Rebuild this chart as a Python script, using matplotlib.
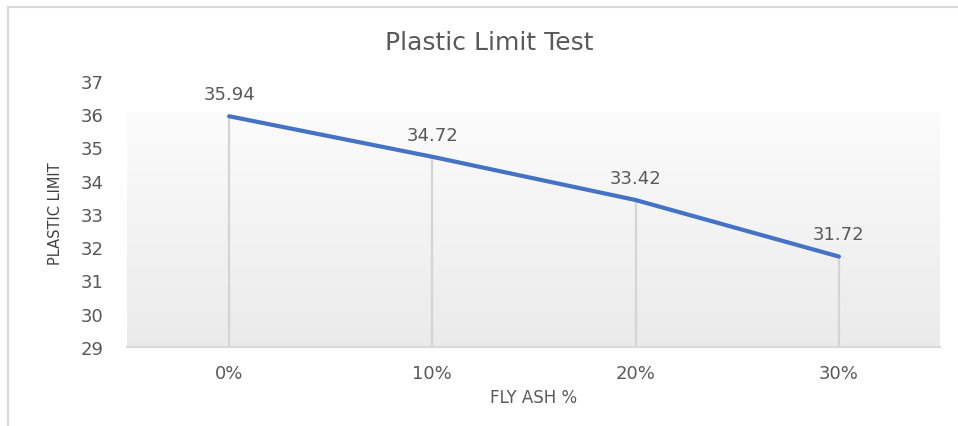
import numpy as np
import matplotlib.pyplot as plt
from matplotlib.patches import Rectangle

categories = ["0%", "10%", "20%", "30%"]
plastic_limit = [35.94, 34.72, 33.42, 31.72]
y_ticks = [29, 30, 31, 32, 33, 34, 35, 36, 37]

plt.rcParams["font.family"] = ["DejaVu Sans"]
text_gray = "#595959"

fig = plt.figure(figsize=(9.58, 4.27), dpi=100)
ax = fig.add_axes([127.5 / 958, 1 - 348 / 427, 813 / 958, 266 / 427])

# outer chart border (cropped on right and bottom)
fig.patches.append(Rectangle((8 / 958, -0.1), 1.2, 1 - 8 / 427 + 0.1,
                             transform=fig.transFigure, fill=False,
                             edgecolor="#d9d9d9", linewidth=1.5))

x = np.arange(len(categories)) + 0.5

# plot area gradient, near white on top to light gray at bottom
top = np.array([0.985, 0.985, 0.985])
bottom = np.array([0.92, 0.92, 0.92])
t = np.linspace(0, 1, 256).reshape(-1, 1, 1)
grad = top + (bottom - top) * t
ax.imshow(grad, extent=[0, 4, 29, 36.05], aspect="auto", zorder=0, origin="upper")

ax.vlines(x, 29, plastic_limit, colors="#d4d4d4", linewidth=1.6, zorder=1)
ax.plot(x, plastic_limit, color="#4472C4", linewidth=3, solid_capstyle="round", zorder=3)

for xi, v in zip(x, plastic_limit):
    ax.annotate(f"{v:.2f}", (xi, v), xytext=(0, 16), textcoords="offset points",
                ha="center", va="center", fontsize=13, color=text_gray)

ax.set_xlim(0, 4)
ax.set_ylim(29, 37)
ax.set_xticks(x)
ax.set_xticklabels(categories)
ax.set_yticks(y_ticks)
ax.tick_params(length=0, labelsize=13, colors=text_gray)
ax.tick_params(axis="x", pad=12)
ax.tick_params(axis="y", pad=17.5)
for side in ["top", "right", "left"]:
    ax.spines[side].set_visible(False)
ax.spines["bottom"].set_color("#d9d9d9")
ax.spines["bottom"].set_linewidth(1.5)
ax.set_facecolor("none")

fig.text(489 / 958, 1 - 43 / 427, "Plastic Limit Test", ha="center", va="center",
         fontsize=18, color=text_gray)
fig.text(55 / 958, 1 - 214 / 427, "PLASTIC LIMIT", ha="center", va="center",
         rotation=90, fontsize=10.5, color="#404040")
fig.text(534 / 958, 1 - 398 / 427, "FLY ASH %", ha="center", va="center",
         fontsize=12, color=text_gray)

fig.savefig("out.png", dpi=100)
